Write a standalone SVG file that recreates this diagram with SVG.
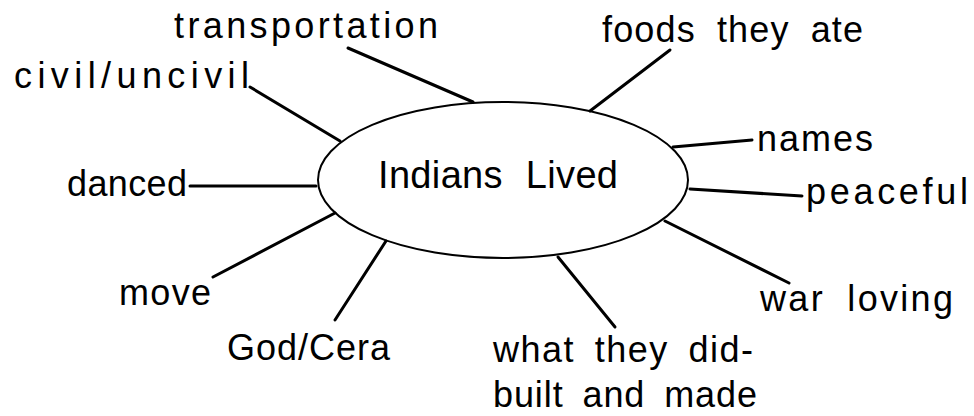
<svg xmlns="http://www.w3.org/2000/svg" width="974" height="416" viewBox="0 0 974 416">
<style>
.lbl{font-family:"Liberation Sans",Arial,Helvetica,sans-serif;font-size:36px;fill:#000;}
.ctr{font-family:"Liberation Sans",Arial,Helvetica,sans-serif;font-size:38px;fill:#000;}
.conn line{stroke:#000;stroke-width:3;stroke-linecap:round;}
</style>
<rect width="974" height="416" fill="#fff"/>
<g id="connectors" class="conn">
<line x1="348" y1="48" x2="473" y2="102"/>
<line x1="250" y1="87" x2="340" y2="141"/>
<line x1="190" y1="186" x2="316" y2="186"/>
<line x1="213" y1="277" x2="335" y2="213"/>
<line x1="335" y1="320" x2="386" y2="241"/>
<line x1="615" y1="327" x2="558" y2="257"/>
<line x1="789" y1="283" x2="665" y2="221"/>
<line x1="690" y1="189" x2="802" y2="196"/>
<line x1="673" y1="147" x2="752" y2="140"/>
<line x1="670" y1="50" x2="590" y2="111"/>
</g>
<g id="center">
<ellipse cx="503" cy="180" rx="185" ry="78" fill="none" stroke="#000" stroke-width="2"/>
<text class="ctr" x="378" y="188" word-spacing="12" textLength="240" lengthAdjust="spacing">Indians Lived</text>
</g>
<g id="transportation"><text class="lbl" x="174" y="38" textLength="264" lengthAdjust="spacing">transportation</text></g>
<g id="civil"><text class="lbl" x="14" y="88" textLength="235" lengthAdjust="spacing">civil/uncivil</text></g>
<g id="danced"><text class="lbl" x="67" y="196" textLength="120" lengthAdjust="spacing">danced</text></g>
<g id="move"><text class="lbl" x="119" y="305" textLength="92" lengthAdjust="spacing">move</text></g>
<g id="god"><text class="lbl" x="227" y="360" textLength="163" lengthAdjust="spacing">God/Cera</text></g>
<g id="what"><text class="lbl" x="493" y="362" word-spacing="8" textLength="260" lengthAdjust="spacing">what they did-</text><text class="lbl" x="493" y="407" word-spacing="8" textLength="264" lengthAdjust="spacing">built and made</text></g>
<g id="war"><text class="lbl" x="760" y="311" word-spacing="10" textLength="193" lengthAdjust="spacing">war loving</text></g>
<g id="peaceful"><text class="lbl" x="806" y="204" textLength="162" lengthAdjust="spacing">peaceful</text></g>
<g id="names"><text class="lbl" x="757" y="151" textLength="116" lengthAdjust="spacing">names</text></g>
<g id="foods"><text class="lbl" x="602" y="42" word-spacing="10" textLength="261" lengthAdjust="spacing">foods they ate</text></g>
</svg>
